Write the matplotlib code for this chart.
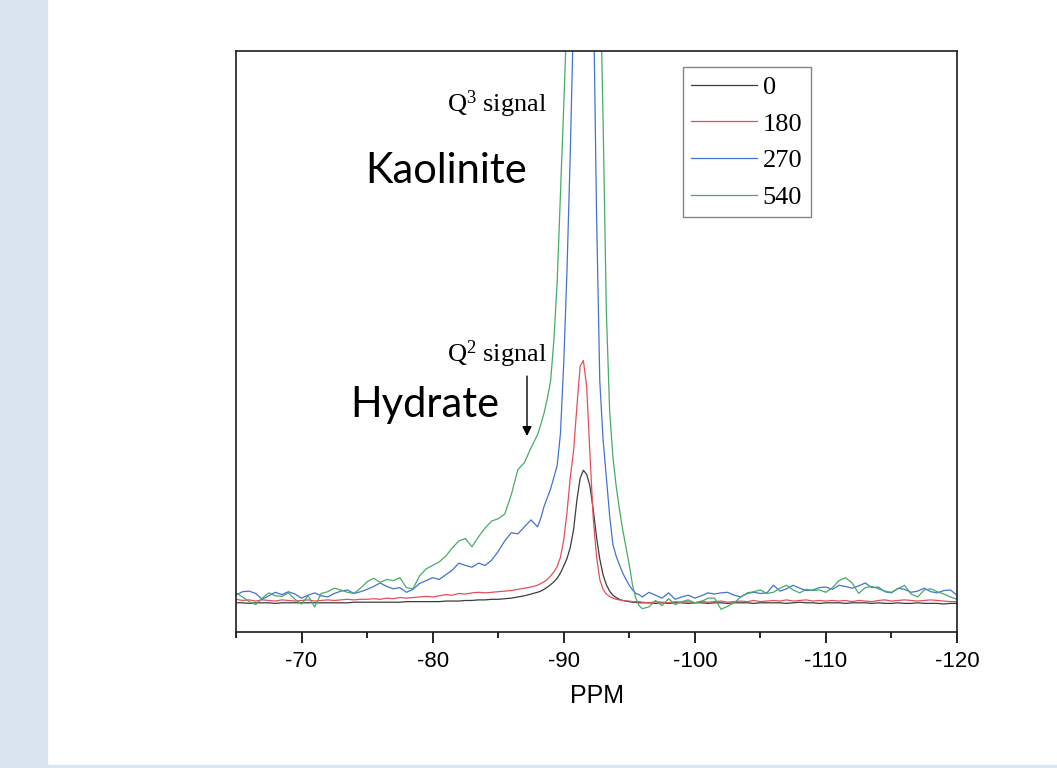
import numpy as np
import matplotlib
matplotlib.use("Agg")
import matplotlib.pyplot as plt
from matplotlib.patches import Rectangle
from matplotlib.ticker import MultipleLocator

plt.rcParams['axes.unicode_minus'] = False
plt.rcParams['mathtext.fontset'] = 'custom'
plt.rcParams['mathtext.rm'] = 'Liberation Serif'
plt.rcParams['mathtext.it'] = 'Liberation Serif:italic'

# chemical shift grid (ppm): coarse in the wings, finer across the peak
ppm = np.concatenate([np.arange(-65, -88.01, -0.5),
                      np.arange(-88.25, -95.76, -0.25),
                      np.arange(-96, -120.01, -0.5)])

# intensities (a.u.), curing time labels in legend
labels = ["0", "180", "270", "540"]

black_0 = [
    5.0, 5.0, 4.9, 5.0, 5.0, 5.0, 4.9, 5.0, 5.0, 5.0,
    5.0, 5.0, 5.0, 5.0, 5.0, 5.0, 5.0, 5.0, 5.1, 5.1,
    5.1, 5.1, 5.1, 5.1, 5.1, 5.1, 5.2, 5.2, 5.2, 5.2,
    5.2, 5.2, 5.3, 5.3, 5.3, 5.4, 5.4, 5.5, 5.5, 5.6,
    5.6, 5.7, 5.8, 6.0, 6.2, 6.5, 6.8,
    7.0, 7.3, 7.7, 8.1, 8.6, 9.2, 10.1, 11.3, 12.6, 14.5,
    17.5, 22.5, 26.3, 27.7, 27.0, 25.0, 21.0, 16.3, 12.5, 9.8,
    8.1, 7.0, 6.3, 5.9, 5.6, 5.4, 5.3, 5.2, 5.1, 5.1, 5.0,
    5.0, 5.0, 4.9, 5.0, 4.9, 5.0, 5.0, 4.9, 5.0, 5.0,
    4.9, 5.0, 5.0, 4.9, 5.0, 5.0, 5.0, 4.9, 5.0, 5.0,
    5.0, 5.0, 4.9, 5.0, 5.1, 5.0, 5.0, 4.9, 5.0, 5.0,
    5.0, 4.9, 5.0, 5.0, 5.0, 4.9, 5.0, 4.9, 4.9, 5.0,
    4.9, 4.9, 5.0, 4.9, 4.9, 4.9, 4.8, 4.9, 4.9]

red_180 = [
    5.6, 5.4, 5.5, 5.3, 5.5, 5.4, 5.3, 5.5, 5.4, 5.3,
    5.4, 5.5, 5.3, 5.4, 5.5, 5.4, 5.5, 5.6, 5.5, 5.6,
    5.6, 5.7, 5.6, 5.8, 5.7, 5.9, 5.8, 5.9, 6.0, 6.1,
    6.0, 6.2, 6.4, 6.3, 6.6, 6.5, 6.7, 6.8, 6.7, 6.8,
    6.9, 7.0, 7.1, 7.3, 7.5, 7.7, 8.0,
    8.3, 8.6, 9.0, 9.6, 10.3, 11.2, 12.8, 15.8, 20.5, 26.5,
    31.0, 38.5, 45.5, 46.5, 42.0, 30.5, 19.5, 13.0, 9.0, 7.3,
    6.5, 6.1, 5.8, 5.6, 5.5, 5.4, 5.3, 5.3, 5.2, 5.2, 5.2,
    5.1, 5.0, 5.2, 5.1, 5.0, 5.2, 5.1, 5.2, 5.0, 5.3,
    5.1, 5.2, 5.3, 5.1, 5.2, 5.3, 5.2, 5.4, 5.2, 5.3,
    5.4, 5.3, 5.5, 5.3, 5.4, 5.5, 5.3, 5.4, 5.3, 5.4,
    5.3, 5.4, 5.2, 5.4, 5.3, 5.2, 5.4, 5.5, 5.3, 5.4,
    5.5, 5.4, 5.3, 5.4, 5.5, 5.4, 5.3, 5.2, 5.2]

blue_270 = [
    6.3, 6.9, 7.0, 6.6, 5.6, 6.2, 6.8, 6.4, 6.9, 6.5,
    5.8, 6.3, 6.7, 6.2, 6.0, 6.6, 7.0, 7.2, 6.6, 6.9,
    7.3, 7.8, 8.4, 7.8, 7.4, 7.6, 6.8, 7.3, 8.3, 8.8,
    9.3, 9.0, 9.8, 10.6, 11.8, 11.4, 11.1, 11.8, 11.4, 12.3,
    13.8, 15.6, 17.0, 16.8, 18.0, 19.2, 18.0,
    19.5, 21.5, 23.0, 24.5, 26.5, 28.5, 34.0, 46.0, 62.0, 82.0,
    106.0, 135.0, 165.0, 180.0, 175.0, 150.0, 112.0, 72.0, 43.0, 33.0,
    26.5, 20.0, 15.0, 13.0, 11.5, 10.1, 9.0, 8.0, 7.2, 6.6, 6.4,
    6.0, 6.8, 6.3, 5.8, 6.7, 5.6, 6.0, 6.3, 5.8, 6.2,
    6.7, 6.5, 6.7, 6.8, 6.3, 6.0, 6.6, 6.8, 6.6, 6.7,
    8.0, 7.0, 7.4, 8.0, 7.5, 7.1, 7.2, 7.6, 7.7, 7.3,
    8.0, 7.8, 7.5, 7.9, 8.4, 7.6, 7.7, 6.9, 6.7, 7.5,
    7.3, 6.8, 7.0, 7.5, 6.9, 6.7, 7.1, 7.2, 6.3]

green_540 = [
    6.7, 6.0, 5.2, 4.7, 5.8, 6.7, 6.2, 6.1, 6.7, 5.6,
    4.8, 6.2, 4.3, 6.6, 6.9, 7.5, 7.2, 6.8, 6.6, 7.5,
    8.6, 9.2, 8.5, 9.0, 8.8, 9.3, 7.6, 7.4, 9.6, 10.8,
    11.4, 12.0, 13.0, 14.4, 15.6, 16.0, 14.6, 16.3, 17.8, 19.0,
    19.4, 20.2, 23.5, 27.8, 29.0, 31.5, 33.8,
    35.5, 37.5, 40.0, 43.0, 50.0, 60.0, 75.0, 90.0, 106.0, 125.0,
    150.0, 175.0, 200.0, 215.0, 215.0, 200.0, 175.0, 145.0, 115.0, 88.0,
    55.0, 38.0, 30.0, 25.0, 21.0, 17.5, 14.5, 11.5, 8.0, 5.8, 4.5,
    4.0, 4.3, 5.4, 4.5, 5.7, 4.7, 5.2, 5.5, 5.0, 5.2,
    5.8, 5.8, 3.9, 4.4, 5.0, 6.0, 6.7, 6.9, 7.2, 6.6,
    6.8, 7.5, 8.0, 7.2, 6.7, 7.3, 7.1, 7.2, 6.8, 7.6,
    8.8, 9.3, 8.4, 6.6, 7.6, 7.8, 7.4, 7.0, 6.8, 7.4,
    8.0, 6.5, 6.0, 7.2, 7.4, 6.9, 6.5, 6.0, 5.6]

series = [black_0, red_180, blue_270, green_540]
colors = ["#3c3c3c", "#e4505a", "#4372d2", "#45ad68"]

fig = plt.figure(figsize=(10.57, 7.68), dpi=100)
fig.patches.append(Rectangle((0, 0), 47 / 1057, 1, transform=fig.transFigure,
                             color="#dae4f0", zorder=0))
fig.patches.append(Rectangle((47 / 1057, 0), 1, 3 / 768, transform=fig.transFigure,
                             color="#dae4f0", zorder=0))

ax = fig.add_axes([236 / 1057, 1 - 632 / 768, 721 / 1057, 581 / 768])

for ys, c, lab in zip(series, colors, labels):
    ax.plot(ppm, ys, color=c, lw=0.9, label=lab)

ax.set_xlim(-65, -120)
ax.set_ylim(0, 99.5)
ax.set_yticks([])
ax.xaxis.set_major_locator(MultipleLocator(10))
ax.xaxis.set_minor_locator(MultipleLocator(5))
ax.tick_params(axis='x', which='major', direction='out', length=8, width=1.2,
               labelsize=16, pad=6)
ax.tick_params(axis='x', which='minor', direction='out', length=4, width=1.2)
for lbl in ax.get_xticklabels():
    lbl.set_fontfamily('Liberation Sans')
for sp in ax.spines.values():
    sp.set_linewidth(1.2)
    sp.set_color("#1e1e1e")

ax.set_xlabel("PPM", fontfamily='Liberation Sans', fontsize=18, labelpad=8)

leg = ax.legend(loc='upper left', bbox_to_anchor=(0.62, 0.9725),
                prop={'family': 'Liberation Serif', 'size': 19},
                handlelength=2.5, handletextpad=0.2, labelspacing=0.5,
                borderpad=0.32, borderaxespad=0, fancybox=False, frameon=True)
leg.get_frame().set_edgecolor("#666666")
leg.get_frame().set_linewidth(1.0)


def px_x(px):
    return -65 - (px - 236.2) / 13.1


def px_y(py):
    return (632 - py) / 5.84


ax.text(px_x(447), px_y(112), r"Q$^3$ signal", fontfamily='Liberation Serif',
        fontsize=19, ha='left', va='baseline')
ax.text(px_x(365), px_y(183), "Kaolinite", fontfamily='Lato', fontsize=30,
        ha='left', va='baseline')
ax.text(px_x(447), px_y(362), r"Q$^2$ signal", fontfamily='Liberation Serif',
        fontsize=19, ha='left', va='baseline')
ax.text(px_x(350), px_y(417), "Hydrate", fontfamily='Lato', fontsize=30,
        ha='left', va='baseline')
ax.annotate("", xy=(px_x(527), px_y(436)), xytext=(px_x(527), px_y(376)),
            arrowprops=dict(arrowstyle='-|>', color='black', lw=1.0,
                            mutation_scale=14, shrinkA=0, shrinkB=0))

fig.savefig("out.png", dpi=100)
